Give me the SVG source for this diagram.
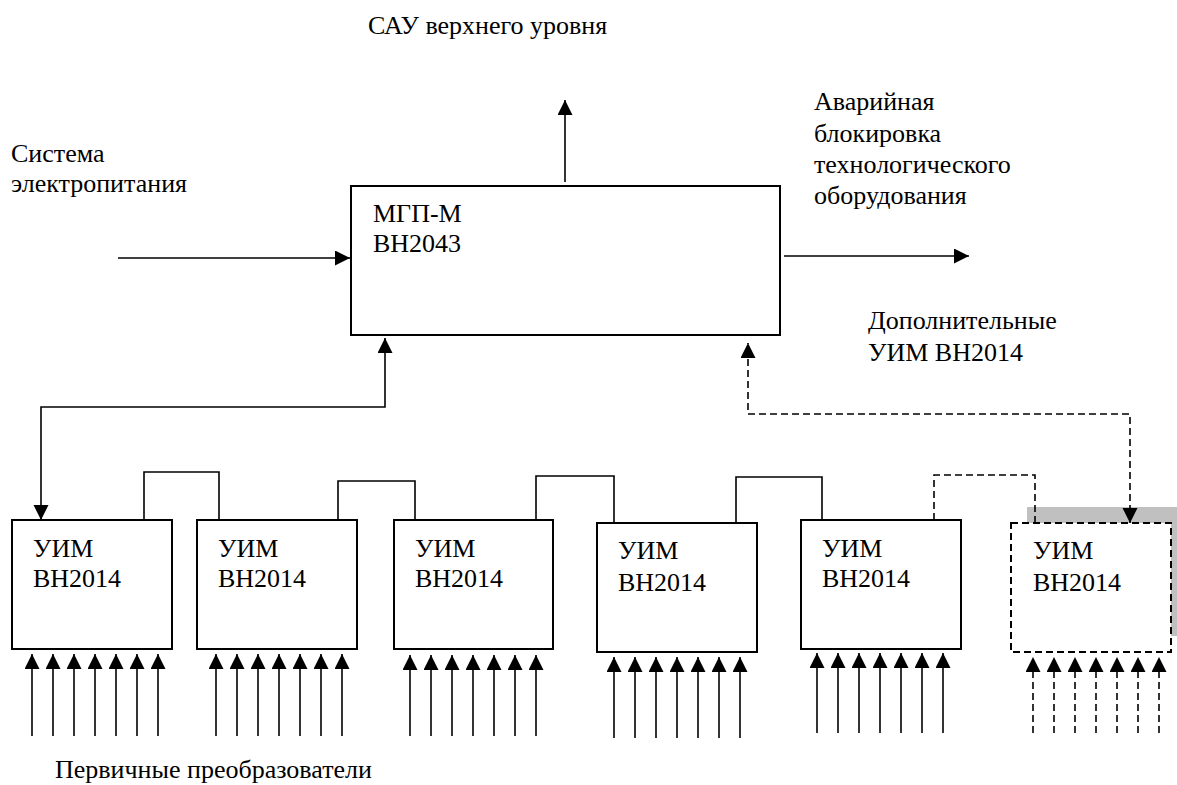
<svg xmlns="http://www.w3.org/2000/svg" width="1177" height="785" viewBox="0 0 1177 785">
<style>
text{font-family:'Liberation Serif','Times New Roman',serif;font-size:26px;fill:#000}
.box{fill:#fff;stroke:#000;stroke-width:2}
.dbox{fill:none;stroke:#000;stroke-width:2;stroke-dasharray:7 4}
.ln{fill:none;stroke:#000;stroke-width:1.6}
.dl{fill:none;stroke:#000;stroke-width:1.6;stroke-dasharray:7 4}
.arr{marker-end:url(#ah)}
.both{marker-start:url(#ah);marker-end:url(#ah)}
</style>
<defs>
<marker id="ah" markerUnits="userSpaceOnUse" markerWidth="16" markerHeight="16" refX="15" refY="7.5" orient="auto-start-reverse">
<path d="M0,0 L15,7.5 L0,15 Z" fill="#000" stroke="none"/>
</marker>
</defs>
<rect width="1177" height="785" fill="#fff"/>

<g id="labels">
<text x="368" y="34">САУ верхнего уровня</text>
<text x="11" y="162">Система</text>
<text x="11" y="192">электропитания</text>
<text x="814" y="110">Аварийная</text>
<text x="814" y="142">блокировка</text>
<text x="814" y="173">технологического</text>
<text x="814" y="204">оборудования</text>
<text x="868" y="329">Дополнительные</text>
<text x="868" y="361">УИМ ВН2014</text>
<text x="55" y="778">Первичные преобразователи</text>
</g>

<g id="mgp">
<rect class="box" x="351" y="186" width="429" height="149"/>
<text x="373" y="222">МГП-М</text>
<text x="373" y="252">ВН2043</text>
</g>

<g id="uim6-shade">
<path d="M1027,507 H1177 V636 H1171 V523 H1027 Z" fill="#c0c0c0"/>
</g>

<g id="uim1">
<rect class="box" x="12" y="520" width="160" height="129"/>
<text x="33" y="557">УИМ</text>
<text x="33" y="587">ВН2014</text>
</g>
<g id="uim2">
<rect class="box" x="197" y="520" width="160" height="129"/>
<text x="218" y="557">УИМ</text>
<text x="218" y="587">ВН2014</text>
</g>
<g id="uim3">
<rect class="box" x="394" y="520" width="159" height="129"/>
<text x="415" y="557">УИМ</text>
<text x="415" y="587">ВН2014</text>
</g>
<g id="uim4">
<rect class="box" x="597" y="523" width="160" height="129"/>
<text x="618" y="559">УИМ</text>
<text x="618" y="591">ВН2014</text>
</g>
<g id="uim5">
<rect class="box" x="801" y="520" width="160" height="129"/>
<text x="822" y="557">УИМ</text>
<text x="822" y="587">ВН2014</text>
</g>
<g id="uim6">
<rect class="dbox" x="1011" y="523" width="160" height="129"/>
<text x="1033" y="559">УИМ</text>
<text x="1033" y="591">ВН2014</text>
</g>

<g id="connectors">
<line class="ln arr" x1="565" y1="182" x2="565" y2="100"/>
<line class="ln arr" x1="118" y1="258" x2="350" y2="258"/>
<line class="ln arr" x1="784" y1="256" x2="969" y2="256"/>
<path class="ln both" d="M41,520 V407 H385 V338"/>
<path class="dl both" d="M1130,523 V414 H748 V343"/>

<path class="ln" d="M144,520 V472 H219 V520"/>
<path class="ln" d="M338,520 V481 H415 V520"/>
<path class="ln" d="M536,520 V476 H614 V523"/>
<path class="ln" d="M736,523 V477 H822 V520"/>
<path class="dl" d="M934,520 V475 H1035 V523"/>

<g class="ln arr">
<line x1="32" y1="736" x2="32" y2="654"/>
<line x1="53" y1="736" x2="53" y2="654"/>
<line x1="74" y1="736" x2="74" y2="654"/>
<line x1="95" y1="736" x2="95" y2="654"/>
<line x1="116" y1="736" x2="116" y2="654"/>
<line x1="137" y1="736" x2="137" y2="654"/>
<line x1="158" y1="736" x2="158" y2="654"/>

<line x1="216" y1="736" x2="216" y2="654"/>
<line x1="237" y1="736" x2="237" y2="654"/>
<line x1="258" y1="736" x2="258" y2="654"/>
<line x1="279" y1="736" x2="279" y2="654"/>
<line x1="300" y1="736" x2="300" y2="654"/>
<line x1="321" y1="736" x2="321" y2="654"/>
<line x1="342" y1="736" x2="342" y2="654"/>

<line x1="410" y1="736" x2="410" y2="655"/>
<line x1="431" y1="736" x2="431" y2="655"/>
<line x1="452" y1="736" x2="452" y2="655"/>
<line x1="473" y1="736" x2="473" y2="655"/>
<line x1="494" y1="736" x2="494" y2="655"/>
<line x1="515" y1="736" x2="515" y2="655"/>
<line x1="536" y1="736" x2="536" y2="655"/>

<line x1="614" y1="738" x2="614" y2="657"/>
<line x1="635" y1="738" x2="635" y2="657"/>
<line x1="656" y1="738" x2="656" y2="657"/>
<line x1="677" y1="738" x2="677" y2="657"/>
<line x1="698" y1="738" x2="698" y2="657"/>
<line x1="719" y1="738" x2="719" y2="657"/>
<line x1="740" y1="738" x2="740" y2="657"/>

<line x1="817" y1="733" x2="817" y2="653"/>
<line x1="838" y1="733" x2="838" y2="653"/>
<line x1="859" y1="733" x2="859" y2="653"/>
<line x1="880" y1="733" x2="880" y2="653"/>
<line x1="901" y1="733" x2="901" y2="653"/>
<line x1="922" y1="733" x2="922" y2="653"/>
<line x1="943" y1="733" x2="943" y2="653"/>
</g>
<g class="dl arr">
<line x1="1033" y1="733" x2="1033" y2="657"/>
<line x1="1054" y1="733" x2="1054" y2="657"/>
<line x1="1075" y1="733" x2="1075" y2="657"/>
<line x1="1096" y1="733" x2="1096" y2="657"/>
<line x1="1117" y1="733" x2="1117" y2="657"/>
<line x1="1138" y1="733" x2="1138" y2="657"/>
<line x1="1159" y1="733" x2="1159" y2="657"/>
</g>
</g>
</svg>
